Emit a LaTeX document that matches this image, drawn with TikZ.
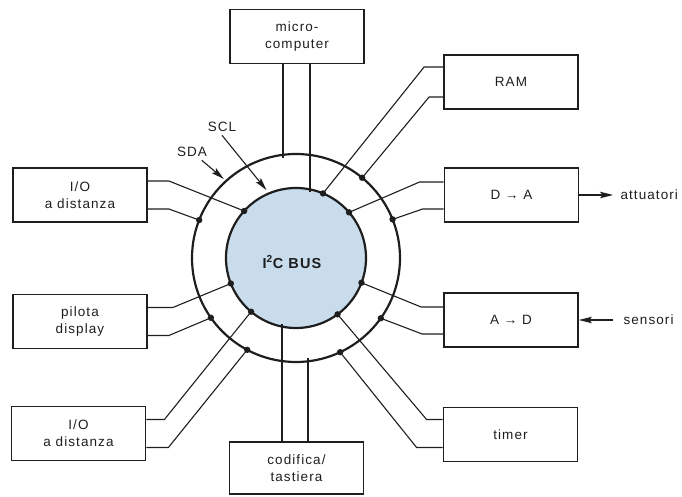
\documentclass[tikz,border=0pt]{standalone}
\usepackage{fontspec}
\setsansfont{Liberation Sans}[LetterSpace=8]
\usetikzlibrary{positioning,arrows.meta,calc}
\definecolor{busfill}{HTML}{C8DCEC}
\definecolor{ink}{HTML}{1E1E1E}

\begin{document}
\begin{tikzpicture}[x=1pt, y=1pt,
  box/.style={draw=ink, line width=1.8pt, minimum width=134pt, minimum height=54pt,
              inner sep=0, align=center, text=ink,
              font=\sffamily\fontsize{13.5}{17}\selectfont},
  wire/.style={draw=ink, line width=1.1pt},
  ring/.style={draw=ink, line width=2.2pt},
  lab/.style={font=\sffamily\fontsize{13.5}{15}\selectfont, text=ink},
  sig/.style={wire, -{Stealth[length=13pt, width=6.5pt, inset=2.5pt]}}]
\newcommand{\lk}[4]{% anchor, shift, knee, dot
  \draw[wire] ([yshift=#2]#1) -- ++(#3,0) -- (#4);}
\useasboundingbox (0,0) rectangle (682,496);
\coordinate (c) at (296,238);

% devices
\node[box] (mc) at (297,459.5) {micro-\\computer};
\node[box] (ram) at (511,414) {RAM};
\node[box] (da) at (511.5,301) {D → A};
\node[box] (ad) at (511,176) {A → D};
\node[box] (tm) at (510.5,61.5) {timer};
\node[box, minimum height=52pt] (cd) at (296.5,28) {codifica/\\tastiera};
\node[box] (io1) at (80,301) {I/O\\a distanza};
\node[box] (pd) at (80,174.5) {pilota\\display};
\node[box] (io2) at (78.5,62.5) {I/O\\a distanza};

% the two lines of the bus
\fill[busfill] (c) circle (70pt);
\foreach \n/\a/\r in {io1-i/137.8/70, io1-o/158.6/104, pd-i/201.4/70, pd-o/215.1/104,
    io2-i/230.1/70, io2-o/242/104, ram-i/67.3/70, ram-o/50.5/104,
    da-i/40.7/70, da-o/21.8/104, ad-i/-20.7/70, ad-o/-35.4/104,
    tm-i/-53.6/70, tm-o/-64.9/104}
  \coordinate (\n) at ($(c)+(\a:\r)$);
\coordinate (mc-o) at ($(c)+(-13,{sqrt(104^2-13^2)-3})$);
\coordinate (mc-i) at ($(c)+(14,{sqrt(70^2-14^2)-3})$);
\coordinate (cd-i) at ($(c)+(-14,{-sqrt(70^2-14^2)+3})$);
\coordinate (cd-o) at ($(c)+(12,{-sqrt(104^2-12^2)+3})$);

\lk{io1.east}{14pt}{21}{io1-i}
\lk{io1.east}{-14pt}{21}{io1-o}
\lk{pd.east}{14pt}{25}{pd-i}
\lk{pd.east}{-14pt}{21}{pd-o}
\lk{io2.east}{14pt}{18}{io2-i}
\lk{io2.east}{-14pt}{22}{io2-o}
\lk{ram.west}{15pt}{-19}{ram-i}
\lk{ram.west}{-15pt}{-14}{ram-o}
\lk{da.west}{13pt}{-24}{da-i}
\lk{da.west}{-14pt}{-21}{da-o}
\lk{ad.west}{13pt}{-22}{ad-i}
\lk{ad.west}{-14pt}{-21}{ad-o}
\lk{tm.west}{15pt}{-16}{tm-i}
\lk{tm.west}{-13pt}{-26}{tm-o}
\draw[wire] (mc.south -| mc-o) -- (mc-o);
\draw[wire] (mc.south -| mc-i) -- (mc-i);
\draw[wire] (cd.north -| cd-i) -- (cd-i);
\draw[wire] (cd.north -| cd-o) -- (cd-o);

\draw[ring] (c) circle (70pt);
\draw[ring] (c) circle (104pt);
\foreach \n in {io1-i, io1-o, pd-i, pd-o, io2-i, io2-o, ram-i, ram-o,
    da-i, da-o, ad-i, ad-o, tm-i, tm-o}
  \fill[ink] (\n) circle (3.2pt);
\node[lab, font=\sffamily\bfseries\fontsize{14.5}{16}\selectfont] (bus) at (292,234)
  {I\textsuperscript{2}C BUS};

% line labels
\node[lab] (sda) at (192,344) {SDA};
\node[lab] (scl) at (222,369) {SCL};
\coordinate (sda-t) at ($(c)+(132.4:107)$);
\coordinate (scl-t) at ($(c)+(113.5:74)$);
\draw[sig] (sda) -- (sda-t);
\draw[sig] (scl.south) -- (scl-t);

% outside world
\node[lab, anchor=west] (att) at (617,301) {attuatori};
\node[lab, anchor=west] (sens) at (620,176) {sensori};
\draw[sig, shorten >=4pt] (da.east) -- (att.west);
\draw[sig, shorten <=7pt] (sens.west) -- (ad.east);
\end{tikzpicture}
\end{document}
